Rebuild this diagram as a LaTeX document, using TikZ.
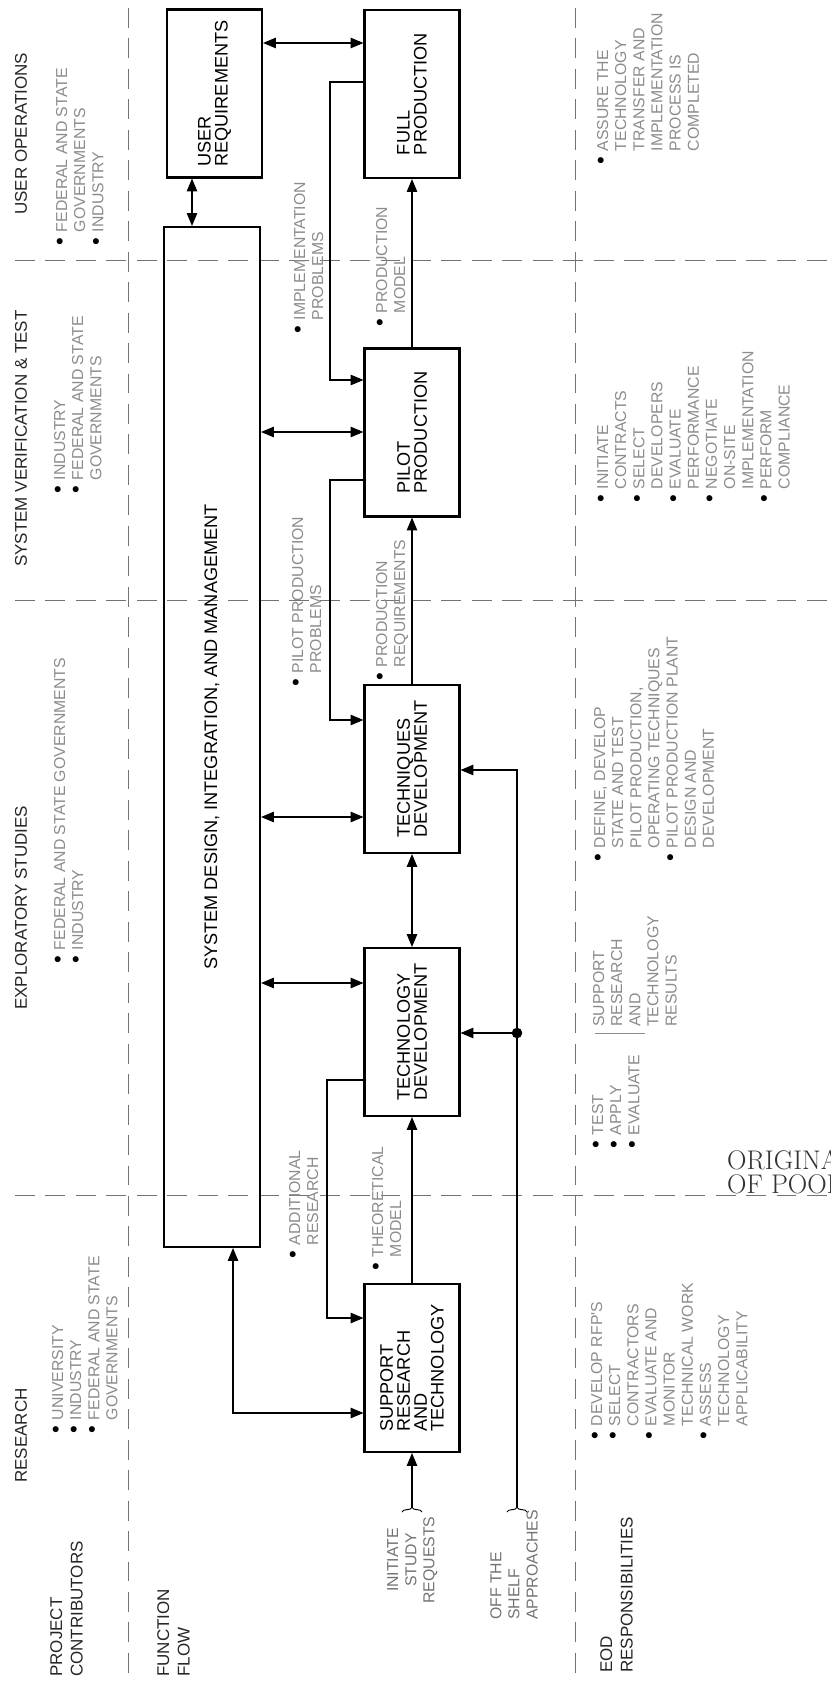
\documentclass[tikz,border=0pt]{standalone}
\usepackage{fontspec}
\usepackage{graphicx}
\usepackage{xcolor}
\usepackage{tikz}
\usetikzlibrary{shapes,arrows.meta,positioning,calc,decorations.pathreplacing}

\newfontfamily\hvfont{Liberation Sans}
\newcommand{\hdfont}{\hvfont\fontsize{14.5}{17.5}\selectfont}
\newcommand{\bxfont}{\hvfont\fontsize{15.5}{14.5}\selectfont}
\newcommand{\lbfont}{\hvfont\fontsize{13.5}{15.5}\selectfont}
\newcommand{\bul}{\textcolor{black}{\scalebox{1.4}{\textbullet}}}
\newcommand{\blist}[1]{\begin{tabular}[t]{@{}l@{\hspace{5pt}}l@{}}#1\end{tabular}}

\begin{document}
\begin{tikzpicture}[
    x=0.03cm, y=-0.03cm,
    box/.style={rectangle, draw, line width=1.8pt, rotate=90, minimum width=5.04cm, minimum height=2.85cm, align=left, font=\bxfont},
    header/.style={rotate=90, anchor=west, inner sep=0pt, font=\hdfont, text=black!85},
    rowtitle/.style={rotate=90, anchor=north west, inner sep=0pt, align=left, font=\hdfont, text=black!85},
    note/.style={rotate=90, anchor=base west, inner sep=0pt, font=\lbfont, text=black!45},
    line/.style={draw, line width=0.9pt, -{Triangle[length=11pt,width=9pt]}},
    dline/.style={draw, line width=0.9pt, {Triangle[length=11pt,width=9pt]}-{Triangle[length=11pt,width=9pt]}},
    divider/.style={draw=black!55, line width=0.8pt, dash pattern=on 17pt off 9pt},
    junction/.style={circle, fill, inner sep=0pt, minimum size=9pt},
    bracemark/.style={decorate, decoration={brace, amplitude=4pt}, line width=0.8pt}
]

\path[fill=white, use as bounding box] (0,0) rectangle (830,1688);

% Dividers
\draw[divider] (15,260) -- (830,260);
\draw[divider] (15,600) -- (830,600);
\draw[divider] (15,1195) -- (830,1195);
\draw[divider] (128,8) -- (128,1680);
\draw[divider] (575,8) -- (575,1680);

% Column headers
\node[header] (hduser) at (21,215) {USER OPERATIONS};
\node[header] (hdsys) at (21,567) {SYSTEM VERIFICATION \& TEST};
\node[header] (hdexp) at (21,1010) {EXPLORATORY STUDIES};
\node[header] (hdres) at (21,1483) {RESEARCH};

% Row titles
\node[rowtitle] (contrib) at (50,1677) {PROJECT\\CONTRIBUTORS};
\node[rowtitle] (flow) at (157,1677) {FUNCTION\\FLOW};
\node[rowtitle] (eod) at (600,1673) {EOD\\RESPONSIBILITIES};

% Contributors
\node[note] (cuser) at (67,246) {\blist{\bul & FEDERAL AND STATE\\ & GOVERNMENTS\\ \bul & INDUSTRY}};
\node[note] (csys) at (65,494) {\blist{\bul & INDUSTRY\\ \bul & FEDERAL AND STATE\\ & GOVERNMENTS}};
\node[note] (cexp) at (65,964) {\blist{\bul & FEDERAL AND STATE GOVERNMENTS\\ \bul & INDUSTRY}};
\node[note] (cres) at (63,1434) {\blist{\bul & UNIVERSITY\\ \bul & INDUSTRY\\ \bul & FEDERAL AND STATE\\ & GOVERNMENTS}};

% Function flow boxes
\node[box] (ureq) at (214.5,93.5) {USER\\REQUIREMENTS};
\node[box, minimum width=30.6cm, minimum height=2.88cm] (sysdes) at (212,737) {SYSTEM DESIGN, INTEGRATION, AND MANAGEMENT};
\node[box] (fullprod) at (412,94) {FULL\\PRODUCTION};
\node[box] (pilot) at (412,432.5) {PILOT\\PRODUCTION};
\node[box] (techq) at (412,769) {TECHNIQUES\\DEVELOPMENT};
\node[box] (techn) at (412,1032) {TECHNOLOGY\\DEVELOPMENT};
\node[box] (support) at (412,1368) {SUPPORT\\RESEARCH\\AND\\TECHNOLOGY};

% Inputs
\coordinate (initpt) at (412,1508);
\coordinate (shelfpt) at (517,1508);
\node[junction] (jn) at (517,1033) {};
\draw[bracemark] (402,1512) -- (422,1512);
\draw[bracemark] (507,1512) -- (527,1512);
\node[rotate=90, anchor=north, inner sep=0pt, align=center, font=\lbfont, text=black!55] (initlbl) at (387,1560) {INITIATE\\STUDY\\REQUESTS};
\node[rotate=90, anchor=north west, inner sep=0pt, align=left, font=\lbfont, text=black!55] (shelflbl) at (490,1620) {OFF THE\\SHELF\\APPROACHES};

% Connections - main chain
\path[line] (pilot.east) -- (fullprod.west);
\path[line] (techq.east) -- (pilot.west);
\path[dline] (techn.east) -- (techq.west);
\path[line] (support.east) -- (techn.west);
\path[line] (initpt) -- (support.west);

% Connections - system design
\path[dline] (ureq.west -| 192,0) -- (sysdes.east -| 192,0);
\path[dline] (ureq.south |- 0,43) -- (fullprod.north |- 0,43);
\path[dline] (sysdes.south |- 0,432) -- (pilot.north |- 0,432);
\path[dline] (sysdes.south |- 0,817) -- (techq.north |- 0,817);
\path[dline] (sysdes.south |- 0,983) -- (techn.north |- 0,983);
\path[dline] (sysdes.west -| 233,0) |- (support.north |- 0,1413);

% Connections - feedback
\path[line] (fullprod.north |- 0,82) -| (330,380) -- (pilot.north |- 0,380);
\path[line] (pilot.north |- 0,480) -| (330,720) -- (techq.north |- 0,720);
\path[line] (techn.north |- 0,1080) -| (327,1318) -- (support.north |- 0,1318);

% Connections - off the shelf
\path[line] (shelfpt) |- (techq.south |- 0,770);
\path[line] (jn) -- (techn.south |- jn);

% Flow labels
\node[note] (limpl) at (305,334) {\blist{\bul & IMPLEMENTATION\\ & PROBLEMS}};
\node[note] (lpmodel) at (387,327) {\blist{\bul & PRODUCTION\\ & MODEL}};
\node[note] (lppp) at (303,687) {\blist{\bul & PILOT PRODUCTION\\ & PROBLEMS}};
\node[note] (lpreq) at (387,681) {\blist{\bul & PRODUCTION\\ & REQUIREMENTS}};
\node[note] (laddl) at (300,1259) {\blist{\bul & ADDITIONAL\\ & RESEARCH}};
\node[note] (ltheo) at (383,1271) {\blist{\bul & THEORETICAL\\ & MODEL}};

% EOD responsibilities
\node[note] (euser) at (608,165) {\blist{\bul & ASSURE THE\\ & TECHNOLOGY\\ & TRANSFER AND\\ & IMPLEMENTATION\\ & PROCESS IS\\ & COMPLETED}};
\node[note] (esys) at (608,503) {\blist{\bul & INITIATE\\ & CONTRACTS\\ \bul & SELECT\\ & DEVELOPERS\\ \bul & EVALUATE\\ & PERFORMANCE\\ \bul & NEGOTIATE\\ & ON-SITE\\ & IMPLEMENTATION\\ \bul & PERFORM\\ & COMPLIANCE}};
\node[note] (eexp) at (605,862) {\blist{\bul & DEFINE, DEVELOP\\ & STATE AND TEST\\ & PILOT PRODUCTION,\\ & OPERATING TECHNIQUES\\ \bul & PILOT PRODUCTION PLANT\\ & DESIGN AND\\ & DEVELOPMENT}};
\node[note] (etest) at (603,1149) {\blist{\bul & TEST\\ \bul & APPLY\\ \bul & EVALUATE}};
\draw[line width=0.6pt, black!45] (595,1033) -- (645,1033);
\node[note] (esupp) at (604,1027) {\begin{tabular}[t]{@{}l@{}}SUPPORT\\RESEARCH\\AND\\TECHNOLOGY\\RESULTS\end{tabular}};
\node[note] (eres) at (602,1440) {\blist{\bul & DEVELOP RFP'S\\ \bul & SELECT\\ & CONTRACTORS\\ \bul & EVALUATE AND\\ & MONITOR\\ & TECHNICAL WORK\\ \bul & ASSESS\\ & TECHNOLOGY\\ & APPLICABILITY}};

% Stamp
\begin{scope}
\clip (0,0) rectangle (830,1688);
\node[anchor=north west, inner sep=0pt, align=left, font=\fontsize{23}{21}\selectfont, text=black!80] (stamp) at (727,1150) {ORIGINAL PAGE IS\\OF POOR QUALITY};
\end{scope}

\end{tikzpicture}
\end{document}
